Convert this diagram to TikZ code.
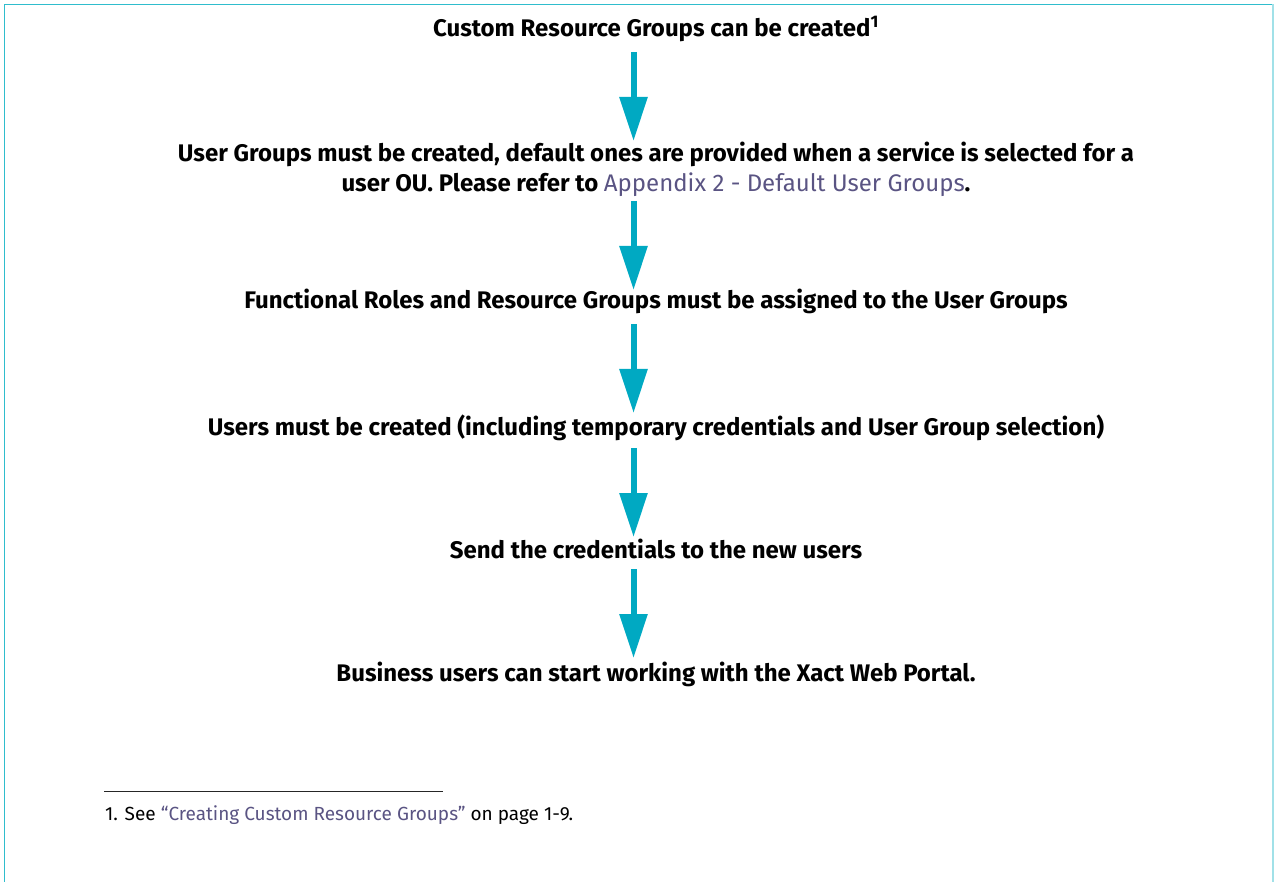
\documentclass[tikz,border=0pt]{standalone}
\usepackage{fontspec}
\setmainfont{Fira Sans}
\usetikzlibrary{arrows.meta,calc}
\definecolor{arrowcyan}{HTML}{00A9C2}
\definecolor{framecyan}{HTML}{2FBDCD}
\definecolor{linkpurple}{HTML}{5A5483}
\begin{document}
\begin{tikzpicture}[x=1pt,y=-1pt,
  steptext/.style={anchor=base, inner sep=0pt, text=black,
    font=\fontsize{24}{30}\selectfont\bfseries},
  notetext/.style={anchor=base west, inner sep=0pt, text=black,
    font=\fontsize{19}{22}\selectfont},
  flow/.style={draw=arrowcyan, fill=arrowcyan, line width=6pt,
    -{Triangle[width=27pt,length=44pt]}},
  frameline/.style={draw=framecyan, line width=1.3pt}]
\useasboundingbox (0,0) rectangle (1274,882);
% page frame
\draw[frameline] (4.5,882) -- (4.5,4.5) -- (1273,4.5);
\draw[frameline, draw=framecyan!45] (1273,4.5) -- (1273,882);
% steps
\node[steptext] (t1) at (656,37) {Custom Resource Groups can be created\textsuperscript{1}};
\node[steptext] (t2) at (656,162) {User Groups must be created, default ones are provided when a service is selected for a};
\node[steptext] (t2b) at (656,192) {user OU. Please refer to {\mdseries\color{linkpurple}Appendix 2 - Default User Groups}.};
\node[steptext] (t3) at (656,309) {Functional Roles and Resource Groups must be assigned to the User Groups};
\node[steptext] (t4) at (656,435) {Users must be created (including temporary credentials and User Group selection)};
\node[steptext] (t5) at (656,558) {Send the credentials to the new users};
\node[steptext] (t6) at (656,681) {Business users can start working with the Xact Web Portal.};
% arrows
\coordinate (ax) at (633.5,0);
\draw[flow] ($(t1.base -| ax)+(0,15)$) -- ($(t2.base -| ax)+(0,-21)$);
\draw[flow] ($(t2b.base -| ax)+(0,9)$) -- ($(t3.base -| ax)+(0,-19)$);
\draw[flow] ($(t3.base -| ax)+(0,15)$) -- ($(t4.base -| ax)+(0,-22)$);
\draw[flow] ($(t4.base -| ax)+(0,13)$) -- ($(t5.base -| ax)+(0,-21)$);
\draw[flow] ($(t5.base -| ax)+(0,11)$) -- ($(t6.base -| ax)+(0,-23)$);
% footnote
\coordinate (r1) at (104,791);
\coordinate (r2) at (443,791);
\draw[line width=0.7pt, draw=black!85] (r1) -- (r2);
\node[notetext] (fn) at (105,820) {1. See {\color{linkpurple}“Creating Custom Resource Groups”} on page 1-9.};
\end{tikzpicture}
\end{document}
